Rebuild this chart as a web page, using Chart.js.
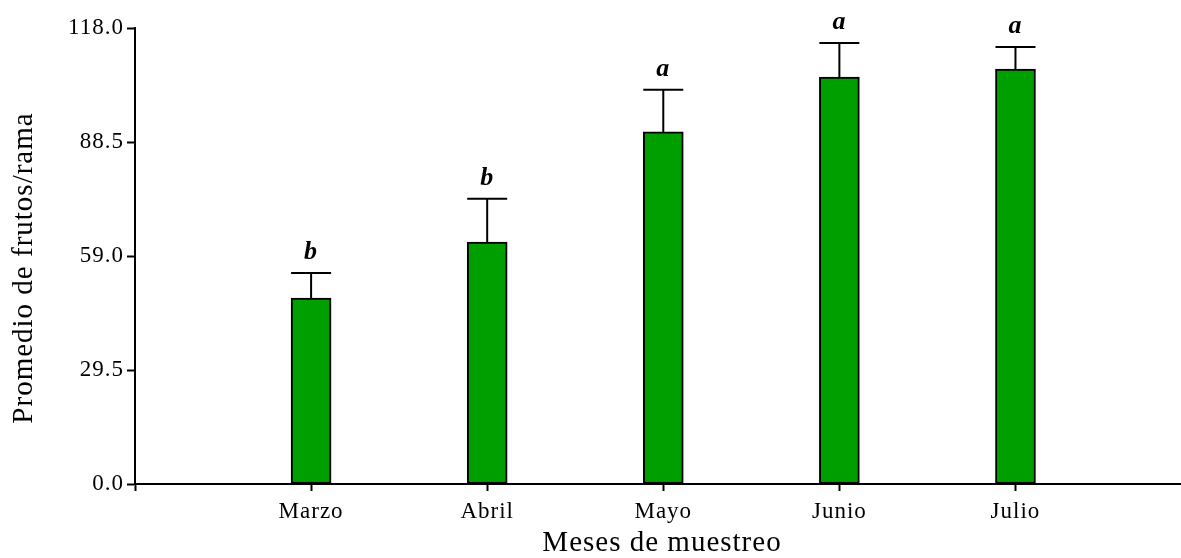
<!DOCTYPE html>
<html>
<head>
<meta charset="utf-8">
<script src="https://cdn.jsdelivr.net/npm/chart.js@4"></script>
<style>
  html, body { margin: 0; padding: 0; background: #fff; }
  #wrap { width: 1181px; height: 558px; }
</style>
</head>
<body>
<div id="wrap"><canvas id="frutosChart" width="1181" height="558"></canvas></div>
<script>
// data
const months = ['Marzo', 'Abril', 'Mayo', 'Junio', 'Julio'];
const means = [48.1, 62.6, 91.1, 105.3, 107.4];
const errors = [6.5, 11.2, 10.9, 8.8, 5.7];
const letters = ['b', 'b', 'a', 'a', 'a'];
const yTicks = [0, 29.5, 59, 88.5, 118];
const xTitle = 'Meses de muestreo';
const yTitle = 'Promedio de frutos/rama';

const font = 'Liberation Serif, Times New Roman, serif';

// the original text is a bit spread out
const spacing = {
    id: 'spacing',
    beforeLayout(chart) { chart.ctx.letterSpacing = '1px'; },
    beforeDraw(chart) { chart.ctx.letterSpacing = '1px'; }
};

// error bars, significance letters and axis titles
const errorBars = {
    id: 'errorBars',
    afterDatasetsDraw(chart) {
        const ctx = chart.ctx;
        const x = chart.scales.x;
        const y = chart.scales.y;
        ctx.save();
        ctx.strokeStyle = '#000';
        ctx.lineWidth = 2;
        means.forEach((m, i) => {
            const cx = x.getPixelForValue(i + 1);
            const top = y.getPixelForValue(m + errors[i]);
            const base = y.getPixelForValue(m);
            ctx.beginPath();
            ctx.moveTo(cx, base);
            ctx.lineTo(cx, top);
            ctx.moveTo(cx - 20, top);
            ctx.lineTo(cx + 20, top);
            ctx.stroke();
            ctx.fillStyle = '#000';
            ctx.font = 'italic bold 26px ' + font;
            ctx.textAlign = 'center';
            ctx.textBaseline = 'alphabetic';
            ctx.fillText(letters[i], cx, top - 14);
        });
        ctx.font = '29px ' + font;
        ctx.textAlign = 'center';
        ctx.textBaseline = 'middle';
        ctx.fillStyle = '#000';
        ctx.fillText(xTitle, 662, 543);
        ctx.translate(24, 268);
        ctx.rotate(-Math.PI / 2);
        ctx.fillText(yTitle, 0, 0);
        ctx.restore();
    }
};

const ctx = document.getElementById('frutosChart').getContext('2d');
new Chart(ctx, {
    type: 'bar',
    data: {
        datasets: [{
            data: means.map((v, i) => ({ x: i + 1, y: v })),
            backgroundColor: '#009f00',
            borderColor: '#000',
            borderWidth: 2,
            borderSkipped: false,
            barThickness: 40
        }]
    },
    options: {
        responsive: false,
        animation: false,
        layout: { padding: { top: 28, right: 0, left: 0, bottom: 0 } },
        plugins: { legend: { display: false }, tooltip: { enabled: false } },
        scales: {
            x: {
                type: 'linear',
                offset: false,
                min: 0,
                max: 5.94,
                afterBuildTicks(scale) {
                    scale.ticks = [0, 1, 2, 3, 4, 5].map(v => ({ value: v }));
                },
                afterFit(scale) { scale.height = 74; },
                ticks: {
                    color: '#000',
                    font: { family: font, size: 23 },
                    padding: 7,
                    maxRotation: 0,
                    autoSkip: false,
                    callback: (v) => months[v - 1] || ''
                },
                grid: { offset: false, drawOnChartArea: false, tickLength: 7, tickColor: '#000', tickWidth: 2 },
                border: { color: '#000', width: 2 }
            },
            y: {
                min: 0,
                max: 118,
                afterBuildTicks(scale) {
                    scale.ticks = yTicks.map(v => ({ value: v }));
                },
                afterFit(scale) { scale.width = 135; },
                ticks: {
                    color: '#000',
                    font: { family: font, size: 23 },
                    padding: 3,
                    callback: (v) => v.toFixed(1)
                },
                grid: { drawOnChartArea: false, tickLength: 8, tickColor: '#000', tickWidth: 2 },
                border: { color: '#000', width: 2 }
            }
        }
    },
    plugins: [spacing, errorBars]
});
</script>
</body>
</html>
